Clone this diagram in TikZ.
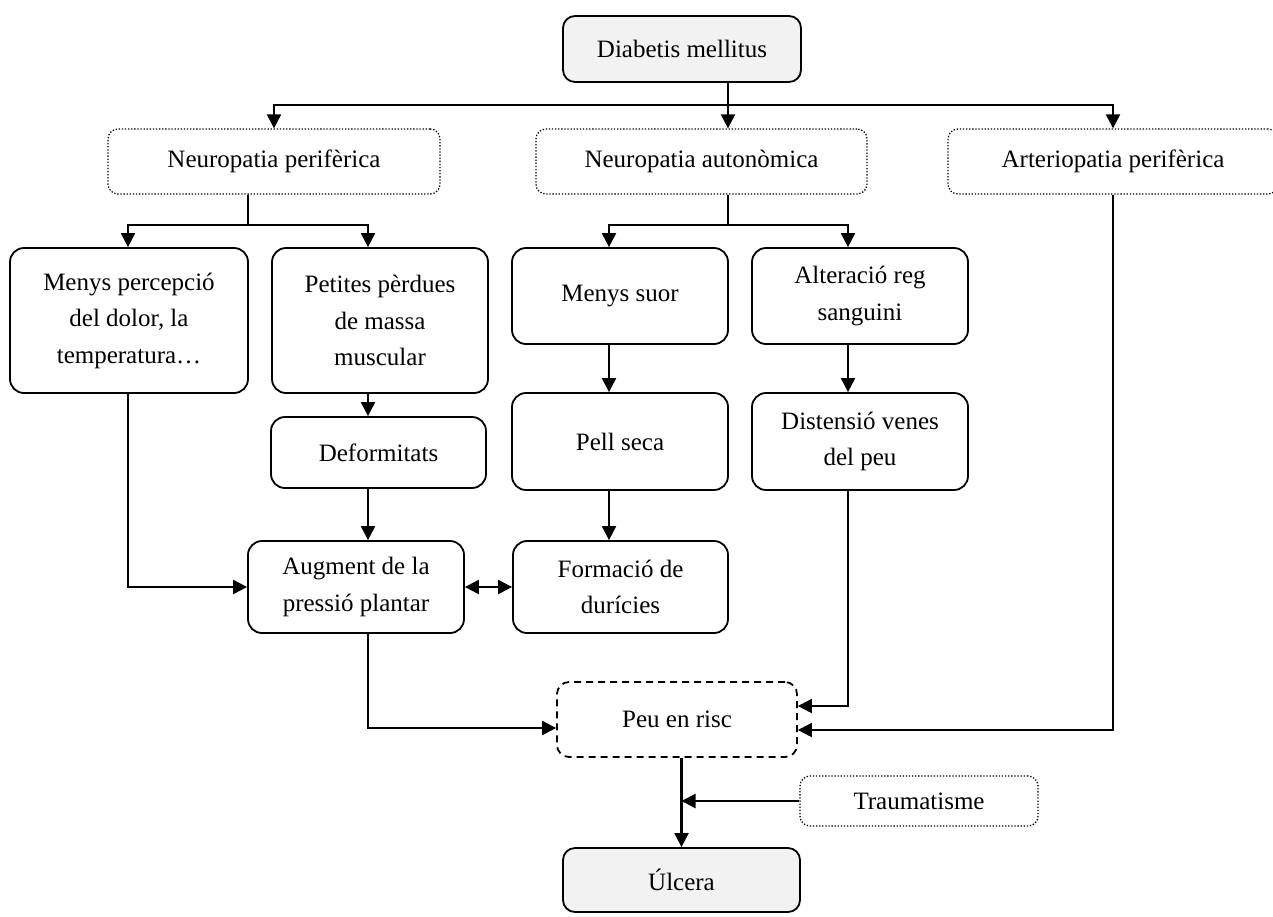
\documentclass[tikz,border=0pt]{standalone}
\usepackage{fontspec}
\setmainfont{Liberation Serif}
\usetikzlibrary{arrows.meta}
\definecolor{boxgray}{HTML}{F2F2F2}
\begin{document}
\begin{tikzpicture}[x=1pt,y=-1pt,
  every node/.style={font=\fontsize{25}{36.5}\selectfont, align=center, inner sep=0pt},
  solidbox/.style={draw, line width=1.8pt, rounded corners=14pt},
  graybox/.style={solidbox, fill=boxgray, rounded corners=12pt},
  dotbox/.style={draw, line width=1.3pt, dash pattern=on 1.3pt off 1.8pt, rounded corners=10pt},
  dashbox/.style={draw, line width=1.8pt, dash pattern=on 7pt off 5pt, rounded corners=12pt},
  link/.style={line width=2.2pt},
  arr/.style={link, -{Triangle[length=14pt,width=14pt]}},
  arrtwo/.style={link, {Triangle[length=14pt,width=14pt]}-{Triangle[length=14pt,width=14pt]}},
]
\useasboundingbox (0,0) rectangle (1273,916);

\node[graybox, minimum width=238pt, minimum height=66pt] (DM) at (682,49) {Diabetis mellitus};
\node[dotbox, minimum width=332pt, minimum height=65pt] (NP) at (274,161.5) {Neuropatia perifèrica};
\node[dotbox, minimum width=331pt, minimum height=65pt] (NA) at (701.5,161.5) {Neuropatia autonòmica};
\node[dotbox, minimum width=330pt, minimum height=65pt] (AP) at (1113,161.5) {Arteriopatia perifèrica};
\node[solidbox, minimum width=238pt, minimum height=145pt] (MP) at (129,320.5) {Menys percepció\\del dolor, la\\temperatura…};
\node[solidbox, minimum width=216pt, minimum height=145pt] (PP) at (380,320.5) {Petites pèrdues\\de massa\\muscular};
\node[solidbox, minimum width=216pt, minimum height=96pt] (MS) at (620,296) {Menys suor};
\node[solidbox, minimum width=216pt, minimum height=96pt] (AR) at (860,296) {Alteració reg\\sanguini};
\node[solidbox, minimum width=215pt, minimum height=71pt] (DF) at (378.5,452.5) {Deformitats};
\node[solidbox, minimum width=216pt, minimum height=97pt] (PS) at (620,441.5) {Pell seca};
\node[solidbox, minimum width=216pt, minimum height=97pt] (DV) at (860,441.5) {Distensió venes\\del peu};
\node[solidbox, minimum width=216pt, minimum height=92pt] (AU) at (356,587) {Augment de la\\pressió plantar};
\node[solidbox, minimum width=215pt, minimum height=92pt] (FD) at (620.5,587) {Formació de\\durícies};
\node[dashbox, minimum width=240pt, minimum height=75pt] (PR) at (677,719.5) {Peu en risc};
\node[dotbox, minimum width=238pt, minimum height=50pt] (TR) at (919,801) {Traumatisme};
\node[graybox, minimum width=237pt, minimum height=64pt] (UL) at (681.5,880) {Úlcera};

\coordinate (jTop) at (728,105);
\coordinate (jNP) at (248,225);
\coordinate (jNA) at (728,225);
\coordinate (xMP) at (128,225);
\coordinate (xPP) at (368,225);
\coordinate (xMS) at (609,225);
\coordinate (xAR) at (848,225);
\coordinate (yDV) at (0,706);
\coordinate (yAU) at (0,728);
\coordinate (yAP) at (0,730);

\draw[arr] (DM.south -| jTop) -- (jTop |- NA.north);
\draw[arr] (jTop) -| (NP.north);
\draw[arr] (jTop) -| (AP.north);

\draw[link] (NP.south -| jNP) -- (jNP);
\draw[arr] (jNP) -| (MP.north -| xMP);
\draw[arr] (jNP) -| (PP.north -| xPP);
\draw[link] (NA.south -| jNA) -- (jNA);
\draw[arr] (jNA) -| (MS.north -| xMS);
\draw[arr] (jNA) -| (AR.north -| xAR);

\draw[arr] (PP.south -| xPP) -- (DF.north -| xPP);
\draw[arr] (DF.south -| xPP) -- (AU.north -| xPP);
\draw[arr] (MP.south -| xMP) |- (AU.west);
\draw[arrtwo] (AU.east) -- (FD.west);
\draw[arr] (MS.south -| xMS) -- (PS.north -| xMS);
\draw[arr] (PS.south -| xMS) -- (FD.north -| xMS);
\draw[arr] (AR.south -| xAR) -- (DV.north -| xAR);
\draw[arr] (AU.south -| xPP) |- (PR.west |- yAU);
\draw[arr] (DV.south -| xAR) |- (PR.east |- yDV);
\draw[arr] (AP.south) |- (PR.east |- yAP);
\draw[arr] (PR.south -| UL.north) -- (UL.north);
\draw[arr] (TR.west) -- (TR.west -| UL.north);
\end{tikzpicture}
\end{document}
